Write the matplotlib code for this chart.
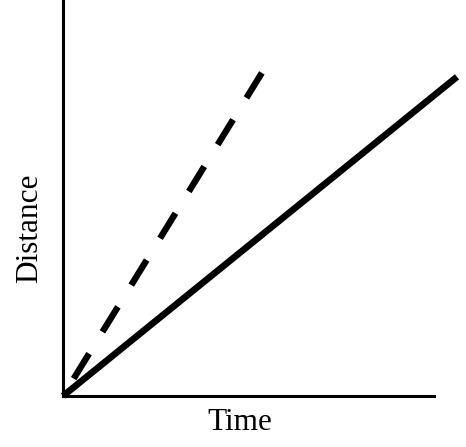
import matplotlib.pyplot as plt

# Değerler
time_solid = [0, 10.62]
distance_solid = [0, 8.06]
# kesikli çizgi üstten başlıyor
time_dashed = [5.36, 0]
distance_dashed = [8.16, 0]

plt.rcParams['font.family'] = ['Liberation Serif', 'DejaVu Serif']

fig = plt.figure(figsize=(4.66, 4.47), dpi=100)
ax = fig.add_axes([63 / 466, 51 / 447, 371 / 466, 396 / 447])

ax.plot(time_solid, distance_solid, color='black', lw=4.8,
        solid_capstyle='butt', clip_on=False)
ax.plot(time_dashed, distance_dashed, color='black', lw=4.6,
        dashes=(4.6, 4.0), dash_capstyle='butt', clip_on=False)

ax.set_xlim(0, 10)
ax.set_ylim(0, 10)
ax.set_xticks([])
ax.set_yticks([])
for side in ['top', 'right']:
    ax.spines[side].set_visible(False)
for side in ['left', 'bottom']:
    ax.spines[side].set_linewidth(2.2)

fig.text(240 / 466, 1 - 422 / 447, "Time", fontsize=22.5, ha='center', va='center')
fig.text(30 / 466, 1 - 228 / 447, "Distance", fontsize=22.5, ha='center',
         va='center', rotation=90)

plt.savefig("out.png", dpi=100)
